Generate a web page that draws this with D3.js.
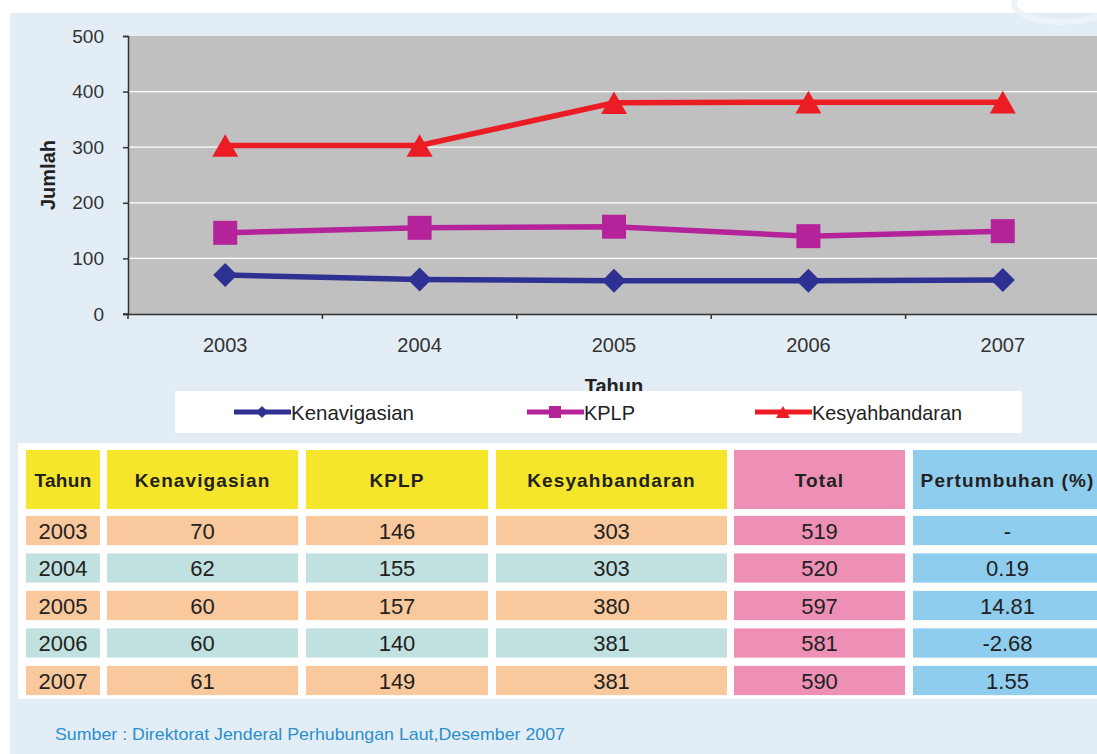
<!DOCTYPE html>
<html>
<head>
<meta charset="utf-8">
<script src="https://cdn.jsdelivr.net/npm/d3@7"></script>
<style>
  html, body { margin: 0; padding: 0; background: #ffffff; }
  svg { display: block; font-family: "Liberation Sans", Arial, sans-serif; }
</style>
</head>
<body>
<svg id="chart" width="1097" height="754"></svg>
<script>
// data
var years = ["2003", "2004", "2005", "2006", "2007"];
var kenavigasian = [70, 62, 60, 60, 61];
var kplp = [146, 155, 157, 140, 149];
var kesyahbandaran = [303, 303, 380, 381, 381];
var total = [519, 520, 597, 581, 590];
var pertumbuhan = ["-", "0.19", "14.81", "-2.68", "1.55"];
var seriesNames = ["Kenavigasian", "KPLP", "Kesyahbandaran"];
var yTicks = [0, 100, 200, 300, 400, 500];
var tableHeaders = ["Tahun", "Kenavigasian", "KPLP", "Kesyahbandaran", "Total", "Pertumbuhan (%)"];

var colors = ["#2e3192", "#b5239b", "#ec1c24"];
var shapes = ["diamond", "square", "triangle"];

var svg = d3.select("#chart");

// light blue panel
svg.append("rect")
  .attr("x", 10).attr("y", 13).attr("width", 1100).attr("height", 760)
  .attr("fill", "#e2edf5");

// faint decoration top right
svg.append("ellipse")
  .attr("cx", 1062).attr("cy", 4).attr("rx", 48).attr("ry", 18)
  .attr("fill", "none").attr("stroke", "#ecf3f9").attr("stroke-width", 6);

// scales
var x = d3.scaleBand().domain(years).range([128, 1100]).padding(0);
var y = d3.scaleLinear().domain([0, 500]).range([314, 36]);

// plot area
svg.append("rect")
  .attr("x", x.range()[0]).attr("y", y(500))
  .attr("width", x.range()[1] - x.range()[0]).attr("height", y(0) - y(500))
  .attr("fill", "#c0c0c0");

// gridlines
svg.append("g").selectAll("line")
  .data(yTicks.filter(function(d) { return d > 0 && d < 500; }))
  .enter().append("line")
  .attr("x1", x.range()[0]).attr("x2", x.range()[1])
  .attr("y1", function(d) { return y(d); }).attr("y2", function(d) { return y(d); })
  .attr("stroke", "#ffffff").attr("stroke-width", 1.3);

// y axis
var yAxis = svg.append("g")
  .attr("transform", "translate(128,0)")
  .call(d3.axisLeft(y).tickValues(yTicks).tickSize(5).tickPadding(6));
yAxis.select(".domain").attr("stroke", "#333").attr("stroke-width", 1.5);
yAxis.selectAll(".tick line").attr("stroke", "#333").attr("stroke-width", 1.5);
yAxis.selectAll(".tick text")
  .attr("font-size", 19).attr("fill", "#333").attr("font-family", "Liberation Sans, Arial, sans-serif")
  .attr("dx", -13);

// x axis
var xAxis = svg.append("g")
  .attr("transform", "translate(0,314)")
  .call(d3.axisBottom(x).tickSize(0).tickPadding(24));
xAxis.select(".domain").attr("stroke", "#333").attr("stroke-width", 1.5);
xAxis.selectAll(".tick text")
  .attr("font-size", 20).attr("fill", "#333").attr("font-family", "Liberation Sans, Arial, sans-serif");
xAxis.selectAll(".boundary")
  .data(years)
  .enter().append("line")
  .attr("class", "boundary")
  .attr("x1", function(d) { return x(d); }).attr("x2", function(d) { return x(d); })
  .attr("y1", 0).attr("y2", 5)
  .attr("stroke", "#333").attr("stroke-width", 1.5);
xAxis.append("line")
  .attr("x1", 123).attr("x2", 128).attr("y1", 0).attr("y2", 0)
  .attr("stroke", "#333").attr("stroke-width", 1.5);

// axis titles
svg.append("text")
  .attr("transform", "translate(55,175) rotate(-90)")
  .attr("text-anchor", "middle")
  .attr("font-size", 20).attr("font-weight", "bold").attr("fill", "#222")
  .text("Jumlah");

svg.append("text")
  .attr("x", 614).attr("y", 393)
  .attr("text-anchor", "middle")
  .attr("font-size", 20).attr("font-weight", "bold").attr("fill", "#222")
  .text("Tahun");

// markers
function markerPath(shape, r) {
  if (shape === "diamond") {
    return "M0," + (-r) + "L" + r + ",0L0," + r + "L" + (-r) + ",0Z";
  } else if (shape === "square") {
    return "M" + (-r) + "," + (-r) + "H" + r + "V" + r + "H" + (-r) + "Z";
  } else {
    var h = r * 0.87;
    return "M0," + (-h) + "L" + r + "," + h + "L" + (-r) + "," + h + "Z";
  }
}

var allSeries = [kenavigasian, kplp, kesyahbandaran];
var line = d3.line()
  .x(function(d, i) { return x(years[i]) + x.bandwidth() / 2; })
  .y(function(d) { return y(d); });

allSeries.forEach(function(vals, s) {
  svg.append("path")
    .datum(vals)
    .attr("d", line)
    .attr("fill", "none")
    .attr("stroke", colors[s])
    .attr("stroke-width", 5.5);
  svg.append("g").selectAll("path")
    .data(vals)
    .enter().append("path")
    .attr("transform", function(d, i) {
      return "translate(" + (x(years[i]) + x.bandwidth() / 2) + "," + y(d) + ")";
    })
    .attr("d", markerPath(shapes[s], s === 2 ? 13 : 12))
    .attr("fill", colors[s]);
});

// legend
svg.append("rect")
  .attr("x", 175).attr("y", 391).attr("width", 847).attr("height", 42)
  .attr("fill", "#ffffff");

var legendX = [234, 527, 755];
var legendLen = [123, 51, 150];
var legend = svg.append("g").selectAll("g")
  .data(seriesNames)
  .enter().append("g")
  .attr("transform", function(d, i) { return "translate(" + legendX[i] + ",412)"; });
legend.append("line")
  .attr("x1", 0).attr("x2", 57).attr("y1", 0).attr("y2", 0)
  .attr("stroke", function(d, i) { return colors[i]; })
  .attr("stroke-width", 5);
legend.append("path")
  .attr("transform", "translate(28,0)")
  .attr("d", function(d, i) { return markerPath(shapes[i], i === 2 ? 7 : 6); })
  .attr("fill", function(d, i) { return colors[i]; });
legend.append("text")
  .attr("x", 57).attr("y", 8)
  .attr("font-size", 21)
  .attr("textLength", function(d, i) { return legendLen[i]; })
  .attr("lengthAdjust", "spacingAndGlyphs")
  .attr("fill", "#222")
  .text(function(d) { return d; });

// table
svg.append("rect")
  .attr("x", 18).attr("y", 443).attr("width", 1090).attr("height", 256)
  .attr("fill", "#ffffff");

var colLeft = [26, 107, 306, 496, 734, 913];
var colRight = [100, 298, 488, 727, 905, 1102];
var headerFill = ["#f6e62b", "#f6e62b", "#f6e62b", "#f6e62b", "#ee90b5", "#8fcdef"];
var rowY = d3.scaleBand().domain(years).range([514, 697]).paddingInner(0.22).paddingOuter(0.05);

var head = svg.append("g").selectAll("g")
  .data(tableHeaders)
  .enter().append("g");
head.append("rect")
  .attr("x", function(d, i) { return colLeft[i]; })
  .attr("width", function(d, i) { return colRight[i] - colLeft[i]; })
  .attr("y", 450).attr("height", 59)
  .attr("fill", function(d, i) { return headerFill[i]; });
head.append("text")
  .attr("x", function(d, i) { return (colLeft[i] + colRight[i]) / 2; })
  .attr("y", 487)
  .attr("text-anchor", "middle")
  .attr("font-size", 19).attr("font-weight", "bold").attr("fill", "#222")
  .attr("letter-spacing", function(d, i) { return i === 0 ? 0.3 : 1.1; })
  .text(function(d) { return d; });

var rows = years.map(function(yr, i) {
  return [yr, kenavigasian[i], kplp[i], kesyahbandaran[i], total[i], pertumbuhan[i]];
});

var rowG = svg.append("g").selectAll("g")
  .data(rows)
  .enter().append("g")
  .attr("transform", function(d, i) { return "translate(0," + rowY(years[i]) + ")"; });

rowG.each(function(row, r) {
  var g = d3.select(this);
  var base = r % 2 === 0 ? "#f9c89c" : "#c0e1df";
  g.selectAll("rect")
    .data(row)
    .enter().append("rect")
    .attr("x", function(d, i) { return colLeft[i]; })
    .attr("width", function(d, i) { return colRight[i] - colLeft[i]; })
    .attr("y", 0).attr("height", rowY.bandwidth())
    .attr("fill", function(d, i) { return i === 4 ? "#ee90b5" : (i === 5 ? "#8fcdef" : base); });
  g.selectAll("text")
    .data(row)
    .enter().append("text")
    .attr("x", function(d, i) { return (colLeft[i] + colRight[i]) / 2; })
    .attr("y", rowY.bandwidth() / 2 + 8)
    .attr("text-anchor", "middle")
    .attr("font-size", 22).attr("fill", "#222")
    .text(function(d) { return d; });
});

// source
svg.append("text")
  .attr("x", 55).attr("y", 740)
  .attr("font-size", 17).attr("fill", "#2b8fcb")
  .attr("textLength", 510).attr("lengthAdjust", "spacingAndGlyphs")
  .text("Sumber : Direktorat Jenderal Perhubungan Laut,Desember 2007");
</script>
</body>
</html>
